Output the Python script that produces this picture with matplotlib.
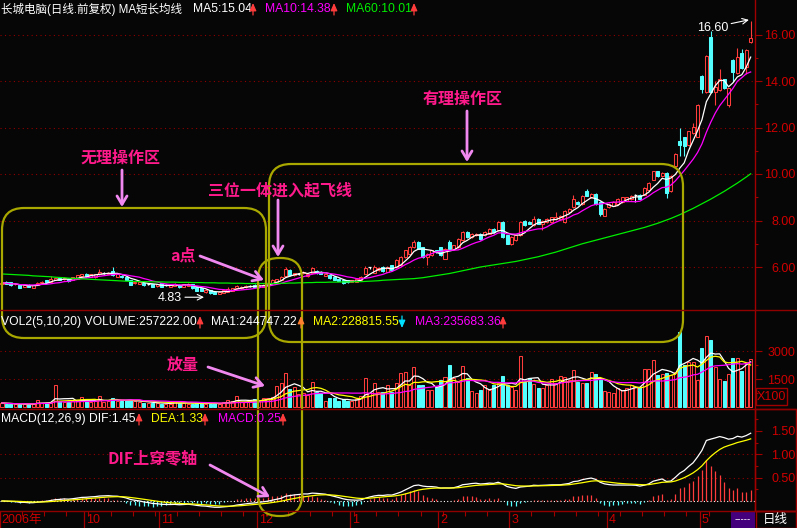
import numpy as np
import pandas as pd
import matplotlib
matplotlib.use('Agg')
import matplotlib.pyplot as plt
from matplotlib.patches import FancyBboxPatch, Rectangle

# ---------------- data ----------------
opens = [5.25,5.37,5.35,5.26,5.22,5.15,5.22,5.10,5.24,5.30,
         5.44,5.37,5.45,5.53,5.48,5.50,5.46,5.50,5.60,5.72,
         5.58,5.55,5.68,5.74,5.70,5.82,5.58,5.62,5.58,5.44,
         5.30,5.28,5.30,5.27,5.27,5.18,5.30,5.23,5.15,5.20,
         5.23,5.15,5.20,5.27,5.15,5.08,4.92,5.01,4.94,4.86,
         4.90,4.94,4.98,5.08,5.08,5.13,5.18,5.23,5.13,5.15,
         5.23,5.30,5.37,5.45,5.60,5.87,5.66,5.71,5.73,5.61,
         5.75,5.84,5.80,5.62,5.66,5.58,5.50,5.44,5.44,5.37,
         5.37,5.44,5.70,5.98,5.76,5.85,6.00,5.79,6.07,6.00,
         6.07,6.43,6.57,6.86,7.07,6.86,6.43,6.50,6.71,6.86,
         6.36,7.07,6.79,6.86,7.14,7.50,7.29,7.36,7.43,7.36,
         7.43,7.64,7.57,7.93,7.36,7.00,7.14,7.36,8.00,7.93,
         7.79,8.07,7.86,7.93,7.93,8.07,8.07,7.93,8.36,8.57,
         8.79,8.71,9.29,9.00,9.14,8.79,8.21,8.57,8.64,8.71,
         8.79,8.86,8.93,9.08,9.10,9.11,9.33,9.76,10.11,9.90,
         10.04,9.26,10.33,11.40,11.57,11.26,11.76,11.61,14.21,13.54,
         15.90,13.54,13.61,14.07,12.97,14.90,14.33,15.19,14.61,15.66]
closes = [5.33,5.27,5.23,5.28,5.10,5.24,5.14,5.22,5.33,5.37,
          5.37,5.50,5.54,5.46,5.53,5.38,5.55,5.64,5.68,5.60,
          5.68,5.68,5.80,5.74,5.76,5.64,5.70,5.56,5.44,5.24,
          5.37,5.37,5.22,5.27,5.15,5.27,5.15,5.23,5.23,5.27,
          5.13,5.27,5.27,5.08,4.98,4.98,5.01,4.87,4.86,4.94,
          5.01,5.04,5.08,5.18,5.15,5.18,5.18,5.15,5.23,5.23,
          5.33,5.44,5.47,5.56,5.90,5.66,5.73,5.71,5.80,5.70,
          5.94,5.73,5.70,5.68,5.51,5.44,5.41,5.30,5.34,5.44,
          5.47,5.58,5.96,5.98,5.99,5.96,5.82,6.00,5.86,6.29,
          6.43,6.71,6.86,7.07,6.79,6.43,6.57,6.71,6.64,6.50,
          6.79,6.79,6.93,7.21,7.50,7.29,7.43,7.43,7.21,7.50,
          7.64,7.50,7.93,7.29,7.00,7.29,7.36,7.93,7.79,7.86,
          8.07,7.86,8.00,8.07,8.14,8.14,8.21,8.43,8.50,8.93,
          8.71,9.07,9.07,9.14,8.71,8.29,8.50,8.71,8.79,8.93,
          9.00,9.00,9.07,9.08,8.94,9.40,9.61,10.11,9.90,10.04,
          9.19,9.90,10.87,11.26,11.19,11.83,12.04,12.97,13.64,15.07,
          13.54,13.76,14.07,13.69,13.69,14.40,15.04,14.54,15.33,15.83]
highs = [5.36,5.40,5.37,5.31,5.24,5.27,5.25,5.24,5.36,5.40,
         5.46,5.60,5.58,5.55,5.56,5.52,5.58,5.66,5.72,5.74,
         5.70,5.71,5.92,5.77,5.79,5.98,5.73,5.64,5.60,5.46,
         5.40,5.39,5.32,5.30,5.29,5.29,5.31,5.26,5.25,5.30,
         5.25,5.29,5.30,5.29,5.17,5.10,5.04,5.03,4.96,4.97,
         5.03,5.12,5.10,5.21,5.18,5.21,5.21,5.25,5.25,5.26,
         5.36,5.47,5.50,5.60,5.98,5.90,5.76,5.75,5.83,5.73,
         5.99,5.87,5.82,5.71,5.68,5.60,5.52,5.46,5.46,5.46,
         5.50,5.61,6.05,6.02,6.10,6.00,6.03,6.03,6.10,6.33,
         6.47,6.75,6.90,7.15,7.10,6.88,6.60,6.74,6.74,6.88,
         6.82,7.15,6.96,7.25,7.54,7.53,7.46,7.46,7.46,7.53,
         7.67,7.67,8.00,7.96,7.39,7.32,7.39,7.97,8.03,7.96,
         8.20,8.10,8.03,8.10,8.17,8.36,8.24,8.46,8.53,9.10,
         8.82,9.10,9.35,9.17,9.17,8.82,8.53,8.74,8.82,8.96,
         9.03,9.03,9.10,9.12,9.13,9.43,9.64,10.15,10.14,10.08,
         10.08,9.94,10.91,11.97,11.60,11.87,12.20,13.01,14.25,15.11,
         16.16,13.98,14.50,14.10,13.72,14.93,15.40,15.36,15.36,16.60]
lows = [5.22,5.25,5.20,5.23,5.08,5.12,5.12,5.08,5.21,5.28,
        5.34,5.35,5.42,5.43,5.46,5.36,5.44,5.48,5.57,5.58,
        5.56,5.53,5.66,5.70,5.68,5.62,5.56,5.53,5.42,5.21,
        5.27,5.26,5.20,5.23,5.13,5.16,5.13,5.20,5.13,5.18,
        5.11,5.13,5.18,5.06,4.96,4.95,4.90,4.85,4.83,4.84,
        4.88,4.92,4.96,5.06,5.06,5.11,5.15,5.13,5.11,5.13,
        5.21,5.28,5.35,5.43,5.58,5.63,5.63,5.67,5.70,5.58,
        5.72,5.71,5.68,5.60,5.49,5.42,5.39,5.28,5.32,5.35,
        5.35,5.42,5.68,5.93,5.74,5.82,5.79,5.77,5.84,5.97,
        6.04,6.40,6.54,6.83,6.76,6.40,6.07,6.47,6.61,6.47,
        6.33,6.76,6.76,6.83,7.11,7.26,7.26,7.33,7.18,7.33,
        7.40,7.47,7.54,7.26,6.97,6.93,7.11,7.33,7.76,7.83,
        7.76,7.83,7.60,7.90,7.90,8.04,8.04,7.90,8.33,8.54,
        8.68,8.68,9.04,8.97,8.68,8.20,8.18,8.54,8.61,8.68,
        8.76,8.83,8.90,8.80,8.91,9.08,9.30,9.73,9.87,9.87,
        8.97,9.23,10.30,10.76,10.76,11.22,11.73,11.58,13.47,13.50,
        13.50,12.97,13.58,13.66,12.90,13.97,14.30,14.51,14.30,15.63]
ma60 = [5.70,5.69,5.68,5.67,5.66,5.65,5.64,5.62,5.61,5.60,
        5.59,5.58,5.56,5.55,5.54,5.52,5.51,5.50,5.49,5.48,
        5.47,5.46,5.45,5.44,5.43,5.42,5.41,5.40,5.39,5.38,
        5.38,5.37,5.37,5.37,5.36,5.36,5.36,5.35,5.35,5.35,
        5.34,5.34,5.34,5.33,5.33,5.33,5.32,5.32,5.32,5.31,
        5.31,5.31,5.30,5.30,5.30,5.29,5.29,5.29,5.29,5.29,
        5.29,5.29,5.29,5.30,5.30,5.31,5.31,5.32,5.32,5.33,
        5.33,5.34,5.34,5.34,5.35,5.35,5.35,5.36,5.36,5.36,
        5.37,5.37,5.38,5.39,5.40,5.41,5.43,5.44,5.45,5.46,
        5.47,5.48,5.49,5.50,5.52,5.54,5.57,5.60,5.63,5.66,
        5.69,5.72,5.76,5.80,5.84,5.88,5.92,5.96,6.00,6.03,
        6.06,6.09,6.12,6.15,6.18,6.21,6.24,6.28,6.32,6.36,
        6.40,6.44,6.49,6.54,6.59,6.64,6.70,6.76,6.82,6.88,
        6.94,7.00,7.05,7.10,7.15,7.20,7.25,7.30,7.35,7.40,
        7.45,7.50,7.55,7.60,7.65,7.70,7.76,7.82,7.88,7.95,
        8.02,8.09,8.17,8.25,8.34,8.43,8.52,8.62,8.72,8.82,
        8.92,9.03,9.14,9.25,9.37,9.49,9.61,9.74,9.87,10.01]
volumes = [220,180,160,150,170,150,140,160,380,200,
           240,220,1180,300,280,260,300,350,550,330,
           260,310,600,280,300,500,320,330,350,380,
           300,250,230,220,240,200,180,170,180,320,
           220,200,180,170,230,200,160,180,200,180,
           250,380,300,600,280,260,300,420,330,500,
           480,560,1140,1270,1800,960,1050,700,730,620,
           1320,820,730,320,500,460,320,420,330,320,
           450,600,1540,730,1270,820,820,1180,820,1270,
           1800,1890,1180,2160,1180,1180,910,910,1090,1450,
           1625,2250,1540,1360,2200,1540,860,730,910,1180,
           910,1180,1270,1660,1180,1090,910,2730,1360,1540,
           1220,1000,1000,1180,1500,1270,1660,1630,1450,1980,
           1360,1270,1270,1890,1750,1540,860,820,730,1000,
           910,1000,1180,1090,1090,2040,2040,2520,1715,1750,
           1800,1700,1890,4000,2250,2430,2430,1450,3180,3800,
           3590,2160,1500,1390,1750,2600,2600,1930,2390,2572]
month_starts = [0, 19, 36, 58, 79, 99, 115, 137, 158]
month_labels = ['2006年', '10', '11', '12', '1', '2', '3', '4', '5']
price_ticks = [6, 8, 10, 12, 14, 16]
vol_ticks = [1500, 3000]
macd_ticks = [0.5, 1.0, 1.5]

# ---------------- style ----------------
W, H = 797, 528
BG = '#060606'
RED = '#ff3c3c'
CYAN = '#54ffff'
AXRED = '#a00000'
GRIDRED = '#900000'
LBLRED = '#d00000'
OLIVE = '#a8a800'
PINK = '#ff1a8c'
ARROW = '#f088f0'
LAT = ['Liberation Sans', 'Noto Sans CJK SC', 'DejaVu Sans']
CJK = ['Noto Sans CJK SC', 'DejaVu Sans']
HFS = 8.7

fig = plt.figure(figsize=(W / 100, H / 100), dpi=100)
fig.patch.set_facecolor(BG)

X0 = 2.0      # pixel of candle 0
DX = 4.43     # pixel spacing
XL = (-X0 / DX, (755 - X0) / DX)


def px_axes(x0, y0, x1, y1):
    ax = fig.add_axes([x0 / W, 1 - y1 / H, (x1 - x0) / W, (y1 - y0) / H])
    ax.set_facecolor(BG)
    for s in ax.spines.values():
        s.set_visible(False)
    ax.set_xlim(*XL)
    ax.set_xticks([])
    return ax


def right_axis(ax, ticks, labels, minor):
    ax.spines['right'].set_visible(True)
    ax.spines['right'].set_color(AXRED)
    ax.spines['right'].set_linewidth(1.0)
    ax.yaxis.tick_right()
    ax.set_yticks(ticks)
    ax.set_yticklabels(labels)
    ax.set_yticks(minor, minor=True)
    ax.tick_params(axis='y', which='major', length=5, width=0.8, color=AXRED,
                   labelcolor=LBLRED, labelsize=9, pad=24)
    ax.tick_params(axis='y', which='minor', length=2.5, width=0.8, color=AXRED)
    for lab in ax.get_yticklabels():
        lab.set_horizontalalignment('right')
        lab.set_family(LAT)


o = np.array(opens); c = np.array(closes); h = np.array(highs); l = np.array(lows)
n = len(c)
xs = np.arange(n)
up = c >= o
doji = c == o

# ---------------- price panel ----------------
ax_p = px_axes(0, 0, 755, 310)
ax_p.set_ylim(6 - (310 - 267) / 23.25, 6 + 267 / 23.25)
right_axis(ax_p, price_ticks, [f'{t:.2f}' for t in price_ticks], [7, 9, 11, 13, 15])
for t in price_ticks:
    ax_p.axhline(t, color=GRIDRED, lw=0.8, ls=(0, (1, 3)), zorder=1)
for i in xs:
    col = 'white' if doji[i] else (RED if up[i] else CYAN)
    ax_p.vlines(i, l[i], h[i], color=col, lw=0.8, zorder=2)
    lo, hi = min(o[i], c[i]), max(o[i], c[i])
    if doji[i]:
        ax_p.hlines(o[i], i - 0.36, i + 0.36, color=col, lw=0.9, zorder=3)
    else:
        fc = BG if up[i] else CYAN
        ax_p.add_patch(Rectangle((i - 0.34, lo), 0.68, hi - lo, facecolor=fc,
                                 edgecolor=col, lw=0.75, zorder=3))
cs = pd.Series(c)
ax_p.plot(xs, cs.rolling(5, min_periods=1).mean(), color='white', lw=0.9, zorder=4)
ax_p.plot(xs, cs.rolling(10, min_periods=1).mean(), color='#ff00ff', lw=0.9, zorder=4)
ax_p.plot(xs, ma60, color='#00ee00', lw=0.9, zorder=4)
# extreme labels
ax_p.text(157.0, 16.28, '16.60', color='white', fontsize=9, family=LAT, va='center', ha='left')
ax_p.annotate('', xy=(168.6, 16.63), xytext=(164.6, 16.47),
              arrowprops=dict(arrowstyle='->', color='white', lw=0.8, shrinkA=0, shrinkB=0))
ax_p.text(35.2, 4.68, '4.83', color='white', fontsize=9, family=LAT, va='center', ha='left')
ax_p.annotate('', xy=(45.6, 4.70), xytext=(41.3, 4.70),
              arrowprops=dict(arrowstyle='->', color='white', lw=0.8, shrinkA=0, shrinkB=0))

# ---------------- volume panel ----------------
ax_v = px_axes(0, 310, 755, 409)
ax_v.set_ylim((407 - 409) * 1500 / 28, (407 - 310) * 1500 / 28)
right_axis(ax_v, vol_ticks, [str(t) for t in vol_ticks], [750, 2250])
for t in vol_ticks:
    ax_v.axhline(t, color=GRIDRED, lw=0.8, ls=(0, (1, 3)), zorder=1)
v = np.array(volumes)
for i in xs:
    if up[i]:
        ax_v.add_patch(Rectangle((i - 0.34, 0), 0.68, v[i], facecolor=BG,
                                 edgecolor=RED, lw=0.75, zorder=2))
    else:
        ax_v.add_patch(Rectangle((i - 0.34, 0), 0.68, v[i], facecolor=CYAN,
                                 edgecolor=CYAN, lw=0.75, zorder=2))
vs = pd.Series(v.astype(float))
ax_v.plot(xs, vs.rolling(5, min_periods=1).mean(), color='white', lw=0.9, zorder=4)
ax_v.plot(xs, vs.rolling(10, min_periods=1).mean(), color='#ffff00', lw=0.9, zorder=4)
ax_v.plot(xs, vs.rolling(20, min_periods=1).mean(), color='#ff00ff', lw=0.9, zorder=4)

# ---------------- MACD panel ----------------
ax_m = px_axes(0, 409, 755, 511)
ax_m.set_ylim(-10 / 46.7, 92 / 46.7)
right_axis(ax_m, macd_ticks, [f'{t:.2f}' for t in macd_ticks], [0.25, 0.75, 1.25, 1.75])
for t in [0.5, 1.0]:
    ax_m.axhline(t, color=GRIDRED, lw=0.8, ls=(0, (1, 3)), zorder=1)
ax_m.axhline(0, color='white', lw=0.8, ls=(0, (1, 2)), zorder=1)
ema12 = cs.ewm(span=12, adjust=False).mean()
ema26 = cs.ewm(span=26, adjust=False).mean()
dif = ema12 - ema26
dea = dif.ewm(span=9, adjust=False).mean()
macd = 2 * (dif - dea)
for i in xs:
    ax_m.vlines(i, 0, macd[i], color=RED if macd[i] >= 0 else CYAN, lw=0.9, zorder=2)
ax_m.plot(xs, dif, color='white', lw=0.9, zorder=4)
ax_m.plot(xs, dea, color='#ffff00', lw=0.9, zorder=4)

# ---------------- date bar ----------------
ax_d = px_axes(0, 511, 755, 528)
ax_d.set_ylim(0, 1)
ax_d.set_yticks([])
for k in range(4, n, 5):
    ax_d.vlines(k + 0.5, 0.72, 1, color=AXRED, lw=0.8)
for s, lab in zip(month_starts, month_labels):
    b = s - 0.5
    ax_d.vlines(b, 0, 1, color=AXRED, lw=0.9)
    ax_d.text(b + 0.45, 0.48, lab, color=LBLRED, fontsize=9, family=LAT,
              va='center', ha='left')

# ---------------- overlay (pixel coordinates) ----------------
ax_o = fig.add_axes([0, 0, 1, 1], zorder=10)
ax_o.set_xlim(0, W); ax_o.set_ylim(H, 0)
ax_o.axis('off'); ax_o.patch.set_alpha(0)

for y in (310, 409, 511):
    ax_o.plot([0, W], [y, y], color=GRIDRED, lw=1.0)
ax_o.add_patch(Rectangle((756, 388), 31, 17, fill=False, edgecolor=AXRED, lw=1.0))
ax_o.text(771.5, 396.5, 'X100', color=LBLRED, fontsize=9, family=LAT, ha='center', va='center')
ax_o.add_patch(Rectangle((755, 409), 41, 102, fill=False, edgecolor=AXRED, lw=1.0))
ax_o.add_patch(Rectangle((731, 512), 24, 16, facecolor='#44007c', edgecolor='none'))
ax_o.text(743, 519.5, '-----', color='white', fontsize=7, family=LAT, ha='center', va='center')
ax_o.add_patch(Rectangle((756, 511), 40, 17, fill=False, edgecolor=AXRED, lw=1.0))
ax_o.text(775, 519.5, '日线', color='white', fontsize=9, family=CJK, ha='center', va='center')


# headers
def hdr(x, y, s, col, fam=LAT, fs=HFS):
    ax_o.text(x, y, s, color=col, fontsize=fs, family=fam, ha='left', va='center')


def harrow(x, y, col, down=False):
    a, b = (y - 6, y + 6) if down else (y + 6, y - 6)
    ax_o.annotate('', xy=(x, b), xytext=(x, a),
                  arrowprops=dict(arrowstyle='-|>,head_length=0.5,head_width=0.22',
                                  color=col, lw=0.9, shrinkA=0, shrinkB=0,
                                  mutation_scale=9))


hdr(1, 9, '长城电脑(日线.前复权) MA短长均线', 'white', fs=8.3)
hdr(193, 9, 'MA5:15.04', 'white'); harrow(253, 9, RED)
hdr(265, 9, 'MA10:14.38', '#ff00ff'); harrow(334, 9, RED)
hdr(346, 9, 'MA60:10.01', '#00ee00'); harrow(414, 9, RED)

hdr(1, 322, 'VOL2(5,10,20) VOLUME:257222.00', 'white'); harrow(200, 322, RED)
hdr(211, 322, 'MA1:244747.22', 'white'); harrow(301, 322, '#ff8030')
hdr(313, 322, 'MA2:228815.55', '#ffff00'); harrow(402, 322, '#00e0ff', down=True)
hdr(415, 322, 'MA3:235683.36', '#ff00ff'); harrow(503, 322, RED)

hdr(1, 419, 'MACD(12,26,9) DIF:1.45', 'white'); harrow(139, 419, RED)
hdr(151, 419, 'DEA:1.33', '#ffff00'); harrow(205, 419, RED)
hdr(218, 419, 'MACD:0.25', '#ff00ff'); harrow(283, 419, RED)

# olive region boxes
for (bx, by, bw, bh, r) in [(2, 208, 264, 130, 22), (269, 164, 414, 178, 22),
                            (258, 258, 44, 258, 21)]:
    ax_o.add_patch(FancyBboxPatch((bx, by), bw, bh,
                                  boxstyle=f'round,pad=0,rounding_size={r}',
                                  fill=False, edgecolor=OLIVE, lw=1.6))

# pink annotations
for (tx, ty, s) in [(121, 158, '无理操作区'), (280, 190, '三位一体进入起飞线'),
                    (183, 256, 'a点'), (463, 99, '有理操作区'), (183, 365, '放量'),
                    (153, 458, 'DIF上穿零轴')]:
    ax_o.text(tx, ty, s, color=PINK, fontsize=11.5, family=CJK, weight='bold',
              ha='center', va='center')
for (x1, y1, x2, y2) in [(122, 170, 122, 207), (278, 200, 278, 257), (200, 256, 264, 280),
                         (467, 111, 467, 162), (208, 367, 265, 386), (210, 465, 270, 497)]:
    ax_o.annotate('', xy=(x2, y2), xytext=(x1, y1),
                  arrowprops=dict(arrowstyle='->,head_length=0.5,head_width=0.3',
                                  color=ARROW, lw=2.0, shrinkA=0, shrinkB=0,
                                  mutation_scale=12))

fig.savefig('out.png', dpi=100, facecolor=BG)
